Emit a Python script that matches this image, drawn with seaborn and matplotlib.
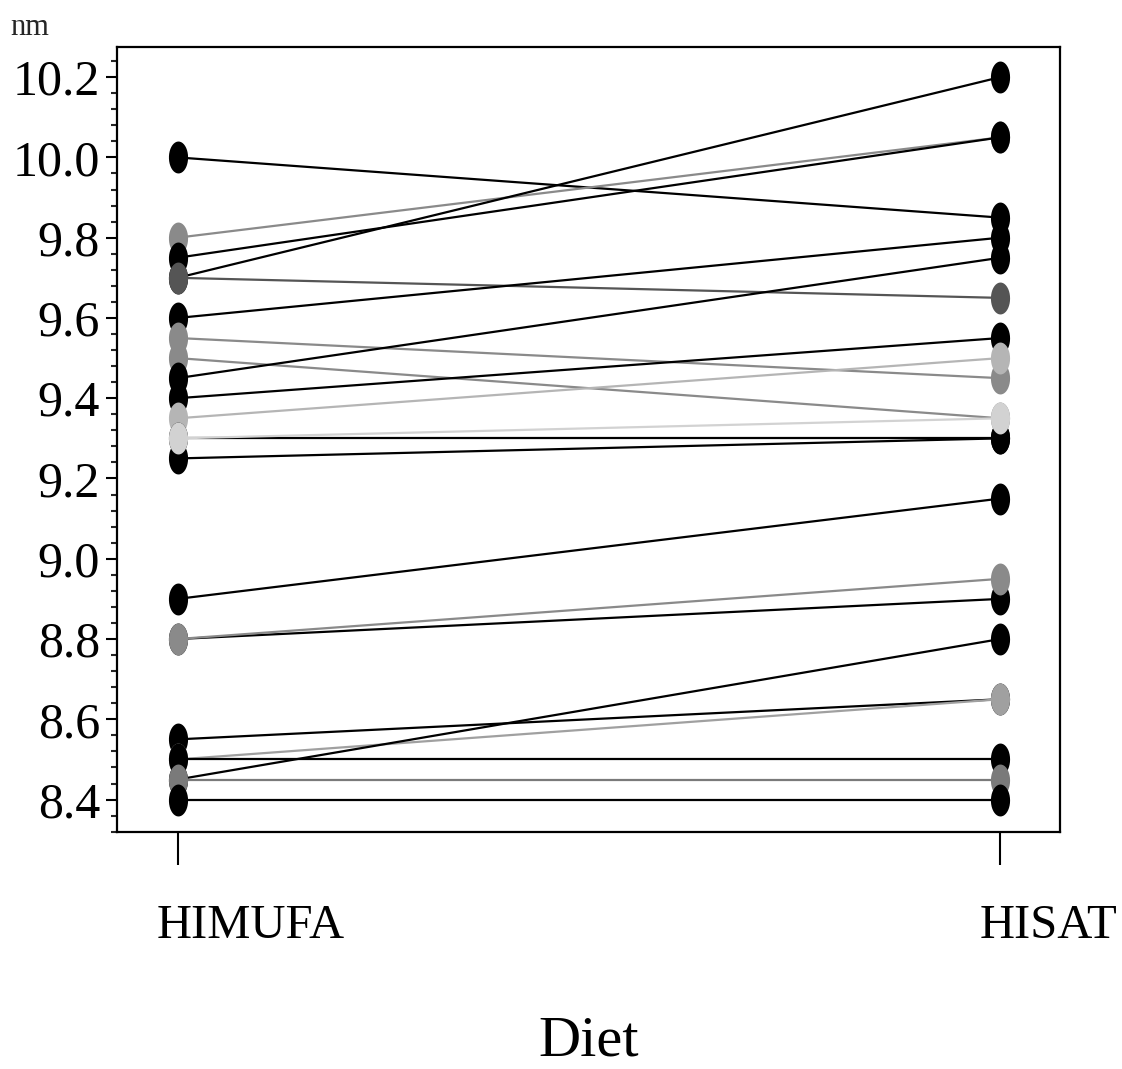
import numpy as np
import pandas as pd
import matplotlib
matplotlib.use("Agg")
import matplotlib.pyplot as plt
from matplotlib.path import Path
from matplotlib.transforms import ScaledTranslation
from matplotlib.ticker import MultipleLocator, AutoMinorLocator, FormatStrFormatter
import seaborn as sns

# ---------------------------------------------------------
# data: one line per subject
# ---------------------------------------------------------
diets = ["HIMUFA", "HISAT"]

himufa = [10.00, 9.80, 9.75, 9.70, 9.70, 9.60, 9.55, 9.50, 9.45, 9.40,
          9.35, 9.30, 9.25, 9.30, 8.90, 8.80, 8.80, 8.55, 8.50, 8.50,
          8.45, 8.45, 8.40]
hisat = [9.85, 10.05, 10.05, 10.20, 9.65, 9.80, 9.45, 9.35, 9.75, 9.55,
         9.50, 9.30, 9.30, 9.35, 9.15, 8.90, 8.95, 8.65, 8.65, 8.50,
         8.80, 8.45, 8.40]
shades = ["#000000", "#8a8a8a", "#000000", "#000000", "#555555", "#000000",
          "#8a8a8a", "#8a8a8a", "#000000", "#000000", "#b5b5b5", "#000000",
          "#000000", "#d2d2d2", "#000000", "#000000", "#8a8a8a", "#000000",
          "#a0a0a0", "#000000", "#000000", "#7a7a7a", "#000000"]

subjects = [f"S{i + 1}" for i in range(len(himufa))]

df = pd.DataFrame({
    "subject": subjects * 2,
    "Diet": [diets[0]] * len(himufa) + [diets[1]] * len(hisat),
    "nm": himufa + hisat,
})
palette = dict(zip(subjects, shades))

# ---------------------------------------------------------
# plot
# ---------------------------------------------------------
sns.set_theme(style="white")
plt.rcParams["font.family"] = ["Liberation Serif", "DejaVu Serif"]

# tall oval marker like the SAS dots
t = np.linspace(0, 2 * np.pi, 40)
oval = Path(np.column_stack([0.6 * np.cos(t), np.sin(t)]), closed=True)

fig = plt.figure(figsize=(11.22, 10.69), dpi=100)
ax = fig.add_axes([0.104, 0.222, 0.841, 0.734])

sns.lineplot(
    data=df,
    x="Diet",
    y="nm",
    hue="subject",
    hue_order=subjects,
    palette=palette,
    units="subject",
    estimator=None,
    sort=False,
    legend=False,
    marker=oval,
    markersize=23,
    markeredgewidth=0,
    linewidth=1.6,
    ax=ax,
)

ax.set_xlim(-0.074, 1.073)
ax.set_ylim(8.32, 10.275)
ax.yaxis.set_major_locator(MultipleLocator(0.2))
ax.yaxis.set_minor_locator(AutoMinorLocator(5))
ax.yaxis.set_major_formatter(FormatStrFormatter("%.1f"))

ax.tick_params(axis="y", which="major", left=True, direction="out",
               length=8, width=1.5, labelsize=36, pad=4, colors="black")
ax.tick_params(axis="y", which="minor", left=True, direction="out",
               length=4, width=1.5)
ax.tick_params(axis="x", which="major", bottom=True, direction="out",
               length=24, width=1.5, labelsize=35, pad=28, colors="black")

# category labels start just left of their tick
shift = ScaledTranslation(-0.21, 0, fig.dpi_scale_trans)
for lab in ax.get_xticklabels():
    lab.set_horizontalalignment("left")
    lab.set_transform(lab.get_transform() + shift)

for s in ax.spines.values():
    s.set_visible(True)
    s.set_color("black")
    s.set_linewidth(1.6)

ax.set_xlabel("Diet", fontsize=42, labelpad=49, color="black")
ax.set_ylabel("")
fig.text(0.009, 0.974, "nm", fontsize=22, ha="left", va="center")

fig.savefig("out.png", dpi=100, facecolor="white")
